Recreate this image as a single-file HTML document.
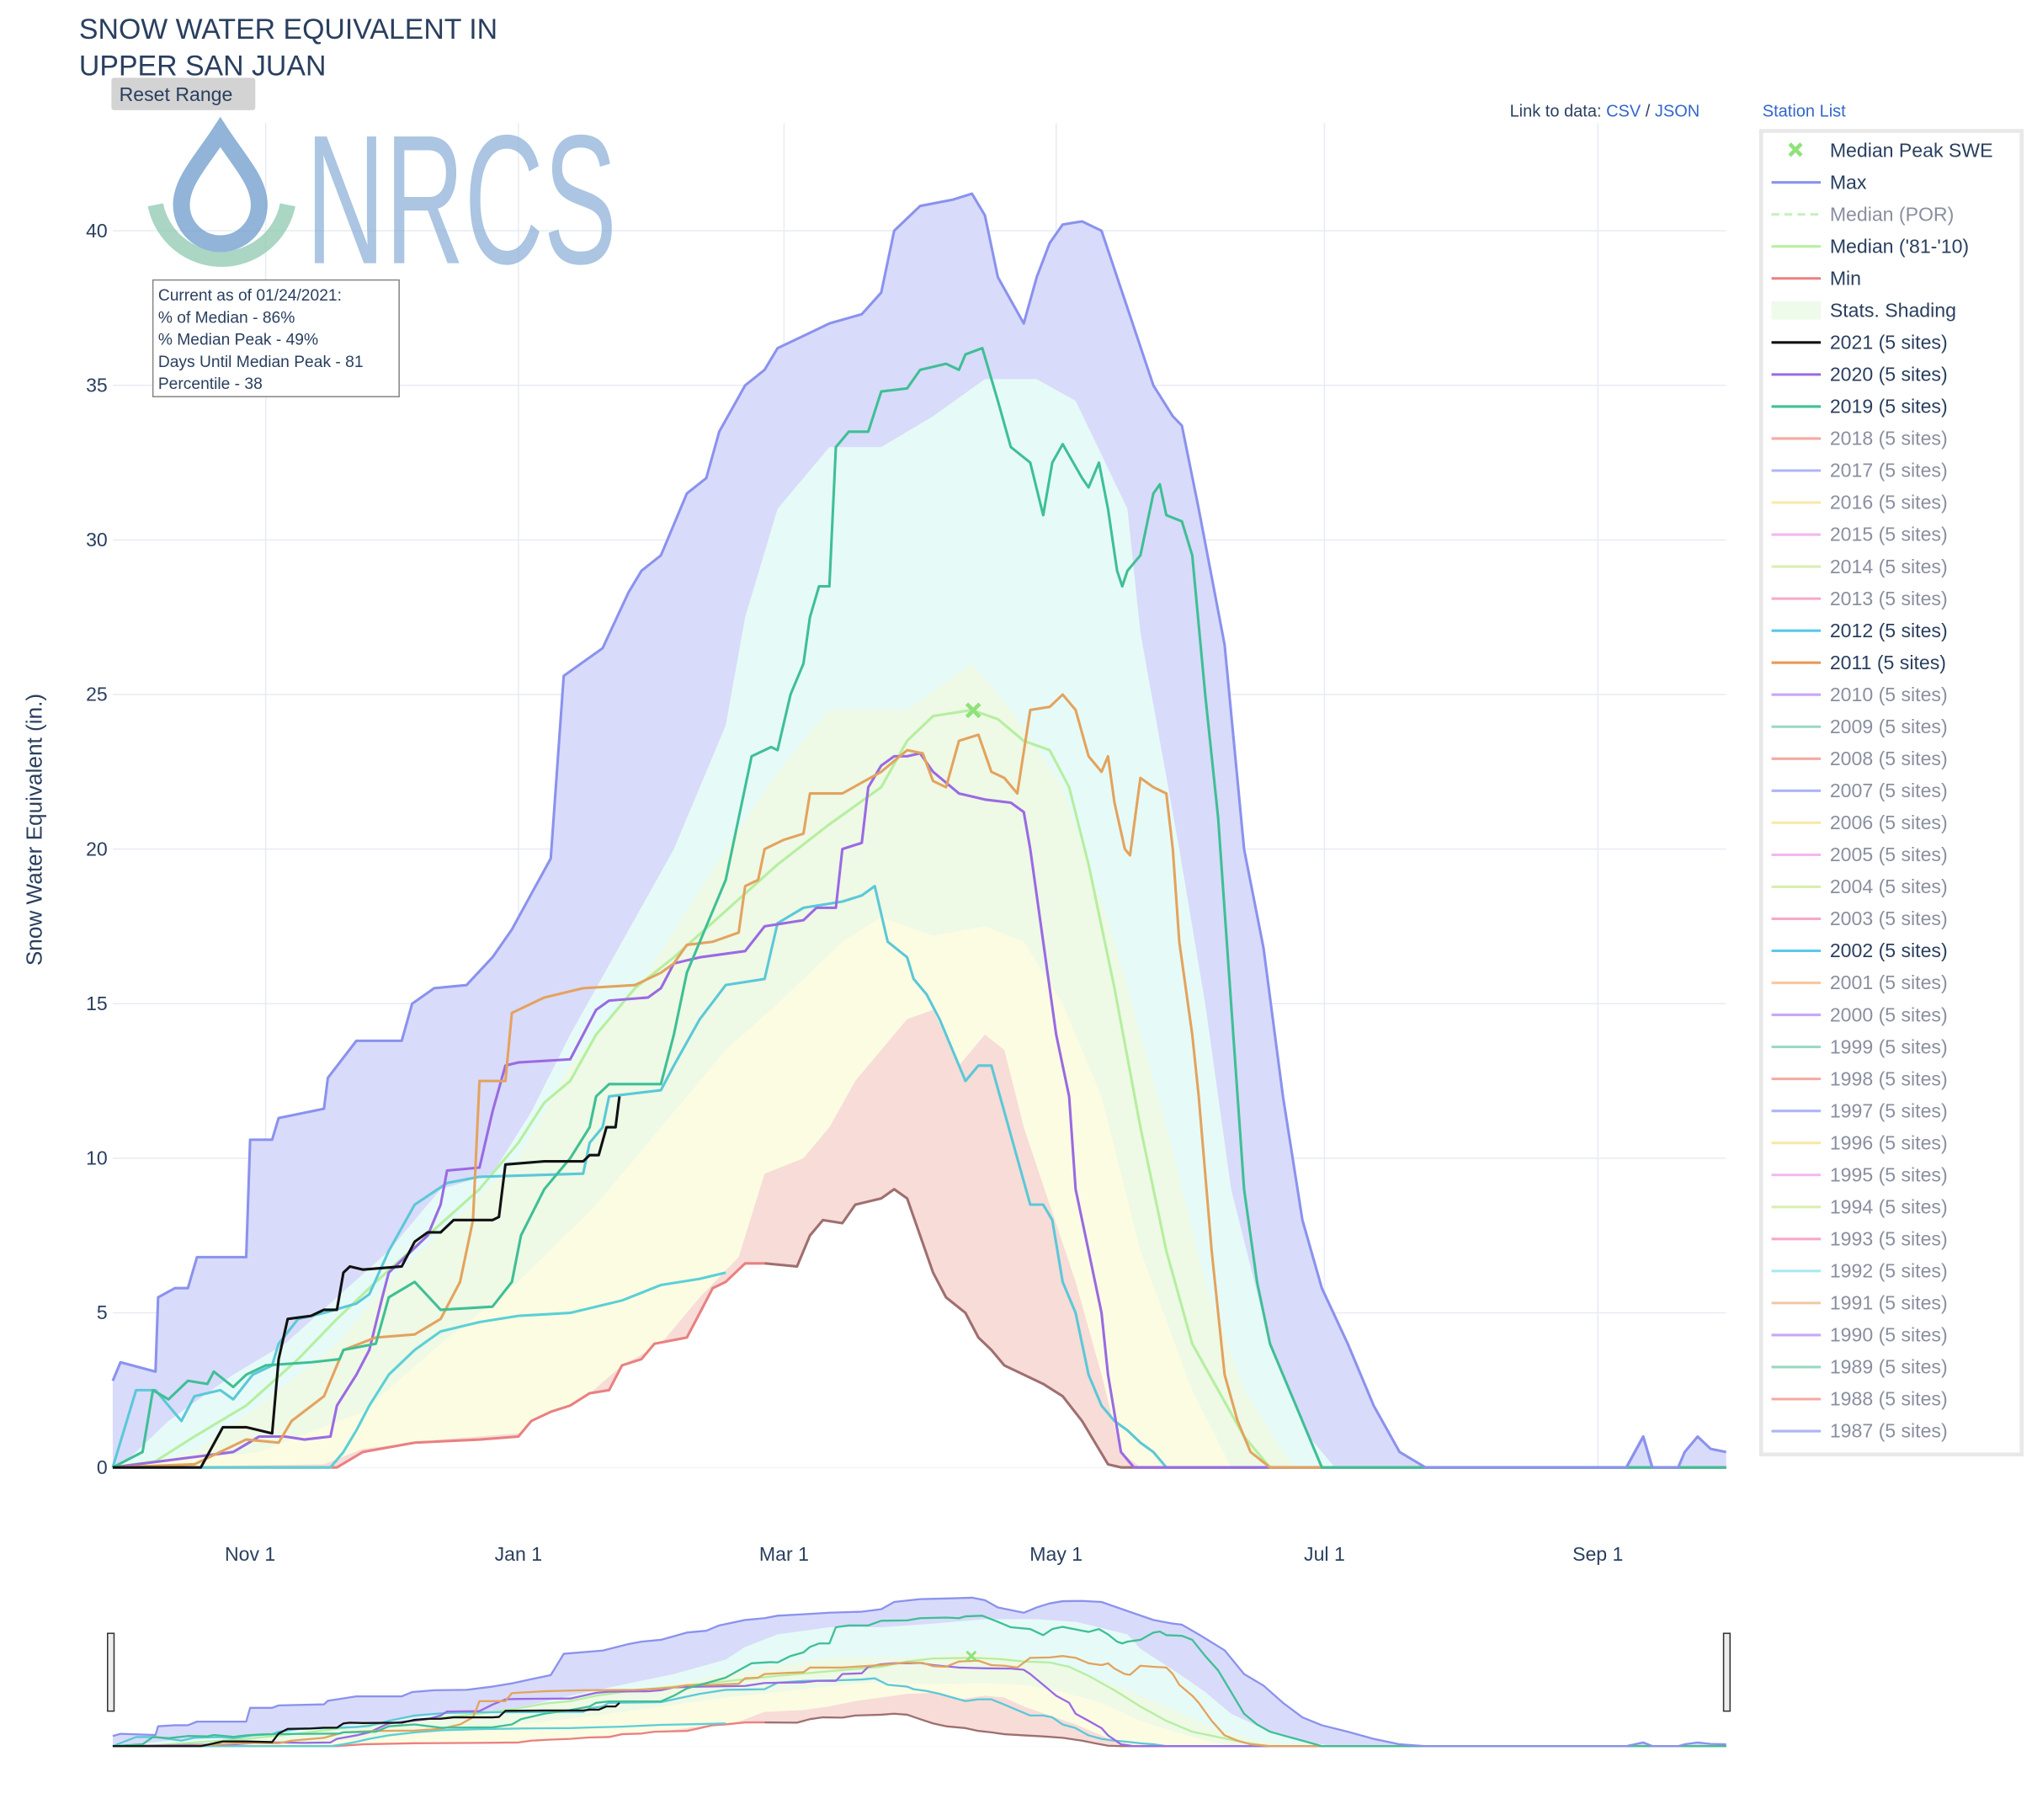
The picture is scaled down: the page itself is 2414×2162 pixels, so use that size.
<!DOCTYPE html>
<html><head><meta charset="utf-8"><style>
html,body{margin:0;padding:0;background:#fff;}
svg{display:block;font-family:"Liberation Sans",sans-serif;}
</style></head><body>
<svg id="s" width="2414" height="2162" viewBox="0 0 1568 1404" preserveAspectRatio="none" xmlns="http://www.w3.org/2000/svg">
<rect width="1568" height="1404" fill="#fff"/>
<g id="grid" stroke="#e8ebf4" stroke-width="1"></g>
<g id="fills"></g>
<g id="lines" fill="none" stroke-width="2" stroke-linejoin="round"></g>
<g id="mini"></g>
<!-- title -->
<text x="61" y="30" font-size="22" fill="#2a3f5f">SNOW WATER EQUIVALENT IN</text>
<text x="61" y="58" font-size="22" fill="#2a3f5f">UPPER SAN JUAN</text>
<rect x="86" y="60" width="111" height="25" rx="2" fill="#d3d3d3"/>
<text x="92" y="78" font-size="15" fill="#2a3f5f">Reset Range</text>
<text x="1165" y="90" font-size="13" fill="#2a3f5f">Link to data: <tspan fill="#3366cc">CSV</tspan> / <tspan fill="#3366cc">JSON</tspan></text>
<text x="1360" y="90" font-size="13" fill="#3366cc">Station List</text>
<!-- logo -->
<g opacity="0.75">
<path d="M120,158 A52,52 0 0 0 222,158" fill="none" stroke="#8ec9b0" stroke-width="12"/>
<path d="M170,102 C155,125 140,140 140,158 A30,30 0 0 0 200,158 C200,140 185,125 170,102 Z" fill="none" stroke="#6d9ccc" stroke-width="13"/>
<text x="236" y="203" font-size="142" fill="#8fb2d9" textLength="240" lengthAdjust="spacingAndGlyphs" font-weight="normal">NRCS</text>
</g>
<rect x="118" y="216" width="190" height="90" fill="#fff" stroke="#888" stroke-width="1"/>
<g font-size="12.5" fill="#2a3f5f">
<text x="122" y="232">Current as of 01/24/2021:</text>
<text x="122" y="249">% of Median - 86%</text>
<text x="122" y="266">% Median Peak - 49%</text>
<text x="122" y="283">Days Until Median Peak - 81</text>
<text x="122" y="300">Percentile - 38</text>
</g>
<!-- axes labels -->
<g font-size="15" fill="#2a3f5f" text-anchor="end" id="ylab"></g>
<g font-size="15" fill="#2a3f5f" text-anchor="middle">
<text x="193" y="1204">Nov  1</text><text x="400" y="1204">Jan  1</text><text x="605" y="1204">Mar  1</text>
<text x="815" y="1204">May  1</text><text x="1022" y="1204">Jul  1</text><text x="1233" y="1204">Sep  1</text>
</g>
<text transform="translate(32,640) rotate(-90)" font-size="17" fill="#2a3f5f" text-anchor="middle">Snow Water Equivalent (in.)</text>
<!-- legend -->
<rect x="1359" y="101" width="201" height="1021" fill="#fff" stroke="#e8e8e8" stroke-width="3"/>
<g id="legend" font-size="15"></g>
</svg>
<script>
const NS="http://www.w3.org/2000/svg";
function el(p,t,a){const e=document.createElementNS(NS,t);for(const k in a)e.setAttribute(k,a[k]);document.getElementById(p).appendChild(e);return e;}
const Y=v=>1132-23.85*v, YM=v=>1347-2.78*v;
const XM=x=>x;
for(let v=0;v<=40;v+=5){el('grid','line',{x1:87,x2:1332,y1:Y(v),y2:Y(v)});const t=el('ylab','text',{x:83,y:Y(v)+5});t.textContent=v;}
[205,400,605,815,1022,1233].forEach(x=>el('grid','line',{x1:x,x2:x,y1:95,y2:1132}));
const P=s=>s.map(a=>a);
const max=[[87,2.8],[93,3.4],[120,3.1],[122,5.5],[135,5.8],[145,5.8],[152,6.8],[190,6.8],[193,10.6],[210,10.6],[215,11.3],[250,11.6],[253,12.6],[275,13.8],[310,13.8],[318,15],[335,15.5],[360,15.6],[380,16.5],[395,17.4],[408,18.4],[425,19.7],[435,25.6],[465,26.5],[485,28.3],[495,29],[510,29.5],[530,31.5],[545,32],[555,33.5],[575,35],[590,35.5],[600,36.2],[620,36.6],[640,37],[665,37.3],[680,38],[690,40],[710,40.8],[735,41],[750,41.2],[760,40.5],[770,38.5],[790,37],[800,38.5],[810,39.6],[820,40.2],[835,40.3],[850,40],[870,37.5],[890,35],[905,34],[912,33.7],[925,31],[945,26.6],[960,20],[975,16.8],[990,12],[1005,8],[1020,5.8],[1040,4],[1060,2],[1080,0.5],[1100,0],[1255,0],[1268,1],[1275,0],[1295,0],[1300,0.5],[1310,1],[1320,0.6],[1332,0.5]];
const p90=[[87,0],[100,0.3],[130,1.5],[180,3],[220,4],[260,5.5],[300,7],[340,9],[380,9.5],[410,11.5],[440,14],[480,17],[520,20],[560,24],[575,27.5],[600,31],[640,33],[680,33],[720,34],[760,35.2],[800,35.2],[830,34.5],[870,31],[880,27],[910,20],[930,15],[950,9],[980,4],[1010,1],[1030,0],[1332,0]];
const p70=[[87,0],[150,0.5],[200,2],[260,4],[300,6],[350,8],[400,10],[440,13],[500,16],[560,20],[600,22.5],[640,24.5],[700,24.5],[750,26],[780,24.5],[820,22],[860,17],[900,11],[930,6],[960,2.5],[990,0.5],[1000,0],[1332,0]];
const p30=[[87,0],[200,0.5],[280,1.8],[340,4],[400,6],[460,8.5],[520,11.5],[560,13.5],[600,15],[650,17],[680,17.8],[720,17.2],[760,17.5],[790,17],[820,15],[850,12],[880,7],[920,2.5],[950,0],[1332,0]];
const p10=[[87,0],[250,0.1],[280,0.6],[340,0.9],[400,1.1],[420,1.6],[450,2.2],[480,3.3],[510,4],[540,5.5],[570,6.8],[590,9.5],[620,10],[640,11],[660,12.5],[680,13.5],[700,14.5],[720,14.8],[740,13],[760,14],[775,13.5],[790,11],[810,8.5],[830,6],[850,3],[865,0.5],[880,0],[1332,0]];
const s2019=[[87,0],[110,0.5],[118,2.5],[130,2.2],[145,2.8],[160,2.7],[165,3.1],[180,2.6],[190,3],[205,3.3],[240,3.4],[262,3.5],[265,3.8],[290,4],[300,5.5],[320,6],[340,5.1],[380,5.2],[395,6],[402,7.5],[420,9],[440,10],[455,11],[460,12],[470,12.4],[510,12.4],[520,14],[530,16],[550,18],[560,19],[570,21],[580,23],[595,23.3],[600,23.2],[610,25],[620,26],[625,27.5],[632,28.5],[640,28.5],[645,33],[655,33.5],[670,33.5],[680,34.8],[700,34.9],[710,35.5],[730,35.7],[740,35.5],[745,36],[758,36.2],[770,34.5],[780,33],[795,32.5],[805,30.8],[812,32.5],[820,33.1],[835,32],[840,31.7],[848,32.5],[855,31],[862,29],[866,28.5],[870,29],[880,29.5],[890,31.5],[895,31.8],[900,30.8],[912,30.6],[920,29.5],[930,25],[940,21],[950,15],[960,9],[970,6],[980,4],[990,3],[1000,2],[1010,1],[1020,0],[1332,0]];
const s2011=[[87,0],[150,0.1],[190,0.9],[215,0.8],[225,1.5],[250,2.3],[265,3.8],[290,4.2],[320,4.3],[340,4.8],[355,6],[365,8],[370,12.5],[390,12.5],[395,14.7],[420,15.2],[450,15.5],[490,15.6],[510,16],[520,16.3],[530,16.9],[550,17],[570,17.3],[575,18.8],[585,19],[590,20],[605,20.3],[620,20.5],[625,21.8],[650,21.8],[680,22.5],[700,23.2],[712,23.1],[720,22.2],[730,22],[740,23.5],[755,23.7],[765,22.5],[775,22.3],[785,21.8],[795,24.5],[810,24.6],[820,25],[830,24.5],[840,23],[850,22.5],[855,23],[860,21.5],[868,20],[872,19.8],[880,22.3],[890,22],[900,21.8],[905,20],[910,17],[920,14],[925,12],[935,7],[945,3],[955,1.5],[965,0.5],[980,0],[1332,0]];
const s2020=[[87,0],[180,0.5],[200,1],[220,1],[235,0.9],[255,1],[260,2],[275,3],[285,3.8],[295,5.5],[300,6.3],[310,6.7],[330,7.5],[340,8.5],[345,9.6],[370,9.7],[380,11.5],[390,13],[400,13.1],[440,13.2],[450,14],[460,14.8],[470,15.1],[500,15.2],[510,15.5],[520,16.3],[540,16.5],[575,16.7],[590,17.5],[620,17.7],[630,18.1],[645,18.1],[650,20],[665,20.2],[670,22],[680,22.7],[690,23],[700,23],[710,23.1],[720,22.5],[740,21.8],[760,21.6],[780,21.5],[790,21.2],[795,20],[805,17],[815,14],[825,12],[830,9],[840,7],[850,5],[855,3],[865,0.5],[875,0],[1255,0],[1268,1],[1275,0],[1332,0]];
const s2012=[[87,0],[105,2.5],[120,2.5],[130,2],[140,1.5],[150,2.3],[170,2.5],[180,2.2],[195,3],[210,3.3],[215,4],[230,4.8],[250,5],[275,5.3],[285,5.6],[300,7],[320,8.5],[345,9.2],[370,9.4],[450,9.5],[455,10.5],[465,11],[470,12],[510,12.2],[520,13],[540,14.5],[560,15.6],[590,15.8],[600,17.6],[620,18.1],[650,18.3],[665,18.5],[675,18.8],[685,17],[700,16.5],[705,15.8],[715,15.3],[725,14.5],[735,13.5],[745,12.5],[755,13],[765,13],[775,11.5],[785,10],[795,8.5],[805,8.5],[812,8],[820,6],[830,5],[840,3],[850,2],[860,1.5],[870,1.2],[880,0.8],[890,0.5],[900,0],[1332,0]];
const s2002=[[87,0],[255,0],[265,0.5],[275,1.2],[285,2],[300,3],[320,3.8],[340,4.4],[370,4.7],[400,4.9],[440,5],[460,5.2],[480,5.4],[510,5.9],[540,6.1],[560,6.3]];
const med=[[87,0],[120,0.2],[150,1],[190,2],[230,3.5],[260,4.8],[290,6],[330,7.5],[370,9],[400,10.5],[420,11.8],[440,12.5],[460,14],[490,15.5],[520,16.5],[560,18],[600,19.5],[640,20.8],[680,22],[700,23.5],[720,24.3],[750,24.5],[770,24.2],[790,23.5],[810,23.2],[825,22],[840,19.5],[860,15.5],[880,11],[900,7],[920,4],[940,2.5],[960,1],[980,0],[1332,0]];
const s2021=[[87,0],[155,0],[172,1.3],[190,1.3],[210,1.1],[215,3.5],[222,4.8],[240,4.9],[250,5.1],[260,5.1],[265,6.3],[270,6.5],[280,6.4],[310,6.5],[320,7.3],[330,7.6],[340,7.6],[350,8],[380,8],[385,8.1],[390,9.8],[420,9.9],[450,9.9],[455,10.1],[462,10.1],[468,11],[475,11],[478,12]];
const minr=[[87,0],[260,0],[280,0.5],[320,0.8],[370,0.9],[400,1],[410,1.5],[425,1.8],[440,2],[455,2.4],[470,2.5],[480,3.3],[495,3.5],[505,4],[530,4.2],[540,5],[550,5.8],[560,6],[575,6.6],[590,6.6]];
const minb=[[590,6.6],[615,6.5],[625,7.5],[635,8],[650,7.9],[660,8.5],[680,8.7],[690,9],[700,8.7],[710,7.5],[720,6.3],[730,5.5],[745,5],[755,4.2],[765,3.8],[775,3.3],[790,3],[805,2.7],[820,2.3],[835,1.5],[845,0.8],[855,0.1],[865,0],[1332,0]];
const minAll=minr.concat(minb.slice(1));
function pts(a,yf){return a.map(p=>p[0]+','+yf(p[1]).toFixed(1)).join(' ');}
function area(g,a,yf,col,base){el(g,'polygon',{points:pts(a,yf)+' 1332,'+base+' 87,'+base,fill:col});}
function line(g,a,yf,col,w){el(g,'polyline',{points:pts(a,yf),stroke:col,'stroke-width':w,fill:'none','stroke-linejoin':'round'});}
function draw(g,yf,base,w){
 area(g,max,yf,'#d9dbfa',base);area(g,p90,yf,'#e6fbf7',base);area(g,p70,yf,'#eef9e6',base);area(g,p30,yf,'#fcfce3',base);area(g,p10,yf,'#f7dcd8',base);area(g,minAll,yf,'#ffffff',base);
 line(g,minr,yf,'#ea8080',w);line(g,minb,yf,'#9f6f6f',w);
 line(g,s2002,yf,'#5bd0d6',w);line(g,med,yf,'#b5ef9f',w);line(g,s2012,yf,'#5bc8d8',w);line(g,s2020,yf,'#9a6ae2',w);line(g,s2011,yf,'#e3a35e',w);line(g,s2019,yf,'#3fbf95',w);line(g,max,yf,'#8a92ee',w);line(g,s2021,yf,'#111',w);
}
draw('fills',Y,1132,2);
el('lines','path',{d:'M746,543 l10,10 M756,543 l-10,10',stroke:'#8ee27a','stroke-width':3});
// mini
el('mini','rect',{x:87,y:1232,width:1245,height:116,fill:'#fff'});
draw('mini',YM,1347,1.5);
el('mini','path',{d:'M746,1274 l7,7 M753,1274 l-7,7',stroke:'#8ee27a','stroke-width':2});
el('mini','rect',{x:83,y:1260,width:5,height:60,fill:'#eee',stroke:'#333','stroke-width':1});
el('mini','rect',{x:1330,y:1260,width:5,height:60,fill:'#eee',stroke:'#333','stroke-width':1});
// legend
const items=[['x','#8ee27a','Median Peak SWE','#2a3f5f'],['l','#8a92ee','Max','#2a3f5f'],['d','#c8f0c0','Median (POR)','#8a8fa0'],['l','#b5ef9f',"Median ('81-'10)",'#2a3f5f'],['l','#ea8080','Min','#2a3f5f'],['s','#eefaea','Stats. Shading','#2a3f5f'],['l','#111','2021 (5 sites)','#2a3f5f'],['l','#9a6ae2','2020 (5 sites)','#2a3f5f'],['l','#3fbf95','2019 (5 sites)','#2a3f5f']];
const yrCols=['#f5a9a0','#aeb4f5','#f8e8a8','#f3b8f0','#d8efb0','#f5a9c8','#5bc8e8','#e89a58','#c8a8f5','#9ad8c0','#f5a9a0','#aeb4f5','#f8e8a8','#f3b8f0','#d8efb0','#f5a9c8','#5bc8e8','#f8c8a0','#c8a8f5','#9ad8c0','#f5a9a0','#aeb4f5','#f8e8a8','#f3b8f0','#d8efb0','#f5a9c8','#a8e8f0','#f0c8a0','#c8a8f5','#9ad8c0','#f5a9a0','#aeb4f5'];
for(let y=2018,i=0;y>=1987;y--,i++){const act=(y==2012||y==2011||y==2002);items.push(['l',act?(y==2011?'#e89a58':'#5bc8e8'):yrCols[i],y+' (5 sites)',act?'#2a3f5f':'#8a8fa0']);}
items.forEach((it,i)=>{const y=116+24.7*i;
 if(it[0]=='x')el('legend','path',{d:`M1381,${y-5} l9,9 M1390,${y-5} l-9,9`,stroke:it[1],'stroke-width':3});
 else if(it[0]=='s')el('legend','rect',{x:1367,y:y-7,width:38,height:14,fill:it[1]});
 else el('legend','line',{x1:1367,x2:1405,y1:y,y2:y,stroke:it[1],'stroke-width':2,'stroke-dasharray':it[0]=='d'?'6,4':'none'});
 const t=el('legend','text',{x:1412,y:y+5,fill:it[3]});t.textContent=it[2];});
</script>
</body></html>
